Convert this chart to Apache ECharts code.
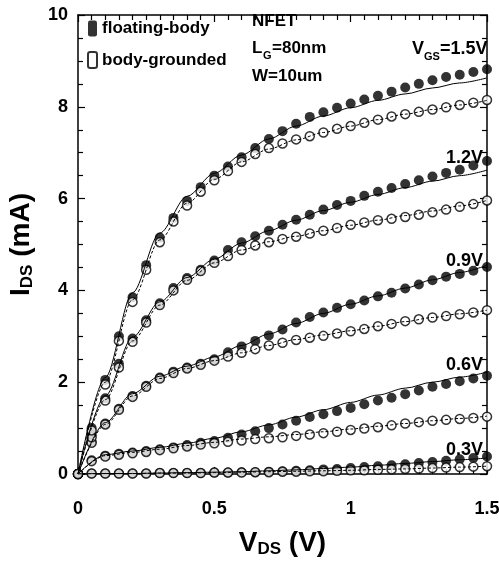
<!DOCTYPE html>
<html>
<head>
<meta charset="utf-8">
<script src="https://cdn.jsdelivr.net/npm/echarts@6/dist/echarts.min.js"></script>
<style>
    html, body {margin: 0; padding: 0; background: #fff;}
    .container {position: relative; width: 499px; height: 564px;}
    .layer {position: absolute; left: 0; top: 0; width: 499px; height: 564px;}
</style>
</head>
<body>
<div class="container">
    <div class="layer" id="axesLayer"></div>
    <div class="layer" id="demo01"></div>
</div>
<script>
// V_DS steps of the measured points and of the model curves
const vds = [0, 0.05, 0.1, 0.15, 0.2, 0.25, 0.3, 0.35, 0.4, 0.45, 0.5, 0.55, 0.6, 0.65, 0.7, 0.75, 0.8, 0.85, 0.9, 0.95,
    1, 1.05, 1.1, 1.15, 1.2, 1.25, 1.3, 1.35, 1.4, 1.45, 1.5];
const vdsModel = [0, 0.1, 0.2, 0.3, 0.4, 0.5, 0.6, 0.7, 0.8, 0.9, 1, 1.1, 1.2, 1.3, 1.4, 1.5];

// floating-body measured (filled)
const fb15 = [0, 1.0, 2.05, 3.0, 3.85, 4.55, 5.15, 5.58, 5.95, 6.25, 6.5, 6.7, 6.9, 7.1, 7.3, 7.47, 7.63, 7.78, 7.88, 7.98, 8.07, 8.16, 8.24, 8.33, 8.42, 8.5, 8.58, 8.65, 8.7, 8.76, 8.82];
const fb12 = [0, 0.85, 1.65, 2.4, 2.95, 3.35, 3.72, 4.05, 4.27, 4.45, 4.65, 4.88, 5.05, 5.18, 5.3, 5.43, 5.54, 5.65, 5.76, 5.86, 5.95, 6.06, 6.15, 6.23, 6.32, 6.4, 6.48, 6.56, 6.63, 6.72, 6.82];
const fb09 = [0, 0.7, 1.1, 1.42, 1.7, 1.92, 2.1, 2.23, 2.32, 2.4, 2.5, 2.65, 2.78, 2.9, 3.02, 3.15, 3.3, 3.42, 3.52, 3.62, 3.7, 3.78, 3.87, 3.95, 4.04, 4.13, 4.22, 4.3, 4.36, 4.43, 4.51];
const fb06 = [0, 0.3, 0.4, 0.44, 0.47, 0.5, 0.54, 0.58, 0.63, 0.68, 0.72, 0.79, 0.86, 0.93, 1.0, 1.08, 1.16, 1.24, 1.3, 1.37, 1.44, 1.52, 1.6, 1.66, 1.74, 1.82, 1.9, 1.96, 2.02, 2.08, 2.14];
const fb03 = [0, 0.01, 0.01, 0.01, 0.01, 0.01, 0.02, 0.02, 0.02, 0.02, 0.03, 0.03, 0.04, 0.04, 0.05, 0.06, 0.07, 0.08, 0.1, 0.11, 0.13, 0.15, 0.17, 0.19, 0.21, 0.24, 0.26, 0.29, 0.32, 0.35, 0.38];

// body-grounded measured (open)
const bg15 = [0, 0.95, 1.95, 2.9, 3.75, 4.45, 5.05, 5.5, 5.85, 6.15, 6.4, 6.6, 6.8, 6.97, 7.1, 7.2, 7.29, 7.36, 7.44, 7.52, 7.58, 7.65, 7.72, 7.79, 7.84, 7.89, 7.94, 7.99, 8.04, 8.09, 8.15];
const bg12 = [0, 0.8, 1.6, 2.32, 2.88, 3.3, 3.68, 4.0, 4.23, 4.42, 4.6, 4.75, 4.88, 4.98, 5.05, 5.12, 5.17, 5.24, 5.3, 5.36, 5.43, 5.48, 5.53, 5.56, 5.6, 5.65, 5.7, 5.76, 5.82, 5.88, 5.96];
const bg09 = [0, 0.68, 1.08, 1.4, 1.68, 1.9, 2.08, 2.2, 2.3, 2.38, 2.47, 2.56, 2.64, 2.72, 2.8, 2.86, 2.92, 2.97, 3.01, 3.06, 3.11, 3.16, 3.22, 3.27, 3.33, 3.37, 3.41, 3.44, 3.48, 3.52, 3.57];
const bg06 = [0, 0.28, 0.38, 0.42, 0.45, 0.48, 0.52, 0.56, 0.6, 0.64, 0.67, 0.7, 0.73, 0.76, 0.78, 0.8, 0.83, 0.86, 0.89, 0.92, 0.96, 0.99, 1.02, 1.06, 1.1, 1.13, 1.16, 1.18, 1.2, 1.22, 1.25];
const bg03 = [0, 0.01, 0.01, 0.01, 0.01, 0.01, 0.02, 0.02, 0.02, 0.02, 0.03, 0.03, 0.03, 0.04, 0.04, 0.05, 0.05, 0.06, 0.06, 0.07, 0.08, 0.08, 0.09, 0.1, 0.11, 0.12, 0.13, 0.14, 0.15, 0.16, 0.17];

// model curves (solid = floating-body, dashed = body-grounded)
const fbModel15 = [0, 2.1, 3.95, 5.25, 6.05, 6.55, 6.95, 7.3, 7.58, 7.8, 7.98, 8.14, 8.28, 8.41, 8.52, 8.63];
const fbModel12 = [0, 1.7, 2.98, 3.75, 4.28, 4.68, 5.03, 5.3, 5.53, 5.74, 5.92, 6.09, 6.24, 6.38, 6.5, 6.62];
const fbModel09 = [0, 1.12, 1.75, 2.13, 2.35, 2.55, 2.8, 3.05, 3.28, 3.5, 3.7, 3.88, 4.05, 4.23, 4.39, 4.55];
const fbModel06 = [0, 0.42, 0.5, 0.58, 0.67, 0.78, 0.92, 1.07, 1.24, 1.4, 1.56, 1.72, 1.87, 2.0, 2.11, 2.22];
const fbModel03 = [0, 0.01, 0.01, 0.02, 0.03, 0.04, 0.05, 0.07, 0.09, 0.12, 0.15, 0.19, 0.23, 0.27, 0.31, 0.35];
const bgModel15 = [0, 2.0, 3.8, 5.1, 5.9, 6.42, 6.8, 7.08, 7.28, 7.44, 7.58, 7.72, 7.84, 7.94, 8.04, 8.14];
const bgModel12 = [0, 1.62, 2.9, 3.68, 4.22, 4.6, 4.88, 5.06, 5.18, 5.3, 5.42, 5.53, 5.63, 5.73, 5.84, 5.96];
const bgModel09 = [0, 1.08, 1.7, 2.08, 2.3, 2.47, 2.64, 2.8, 2.93, 3.03, 3.12, 3.22, 3.32, 3.41, 3.49, 3.57];
const bgModel06 = [0, 0.4, 0.47, 0.54, 0.62, 0.69, 0.76, 0.81, 0.86, 0.92, 0.98, 1.04, 1.1, 1.16, 1.21, 1.26];
const bgModel03 = [0, 0.01, 0.01, 0.02, 0.02, 0.03, 0.04, 0.05, 0.06, 0.07, 0.08, 0.1, 0.11, 0.13, 0.15, 0.17];

const xTicks = [0, 0.5, 1, 1.5];
const yTicks = [0, 2, 4, 6, 8, 10];
const vgsLabels = ['1.2V', '0.9V', '0.6V', '0.3V'];

let curves = [
    {fb: fb03, bg: bg03, fbModel: fbModel03, bgModel: bgModel03},
    {fb: fb06, bg: bg06, fbModel: fbModel06, bgModel: bgModel06},
    {fb: fb09, bg: bg09, fbModel: fbModel09, bgModel: bgModel09},
    {fb: fb12, bg: bg12, fbModel: fbModel12, bgModel: bgModel12},
    {fb: fb15, bg: bg15, fbModel: fbModel15, bgModel: bgModel15},
];

const font = '"Liberation Sans", Arial, sans-serif';
const gridBox = {left: 78, right: 12, top: 15, bottom: 90, outerBoundsMode: 'none'};
let pair = (xs, ys) => xs.map((x, i) => [x, ys[i]]);

let richSub = (size, subSize, pad) => ({
    a: {fontSize: size, fontWeight: 'bold', fontFamily: font, color: '#000'},
    s: {fontSize: subSize, fontWeight: 'bold', fontFamily: font, color: '#000', padding: [pad, 0, 0, 0]}
});

// one axis config; side decides labels / name; show=false keeps only the scale
let makeAxis = (dim, side, show) => {
    let isX = dim === 'x';
    let axis = {
        type: 'value', position: side, show: show,
        min: 0, max: isX ? 1.5 : 10, interval: isX ? 0.5 : 2,
        axisLine: {show: true, onZero: false, lineStyle: {color: '#000', width: 1.5}},
        axisTick: {show: true, inside: true, length: 7, lineStyle: {color: '#000', width: 1.2}},
        minorTick: {show: true, splitNumber: isX ? 10 : 4, length: 5, lineStyle: {color: '#000', width: 1.2}},
        splitLine: {show: false}, minorSplitLine: {show: false},
        axisLabel: {show: false}
    };
    if (show && (side === 'bottom' || side === 'left')) {
        axis.axisLabel = {
            show: true, margin: isX ? 26 : 10, fontSize: 18, fontWeight: 'bold', fontFamily: font, color: '#000',
            formatter: v => (isX ? xTicks : yTicks).includes(v) ? String(v) : ''
        };
        axis.nameLocation = 'middle';
        axis.nameTextStyle = {rich: richSub(28, 17, 12)};
        axis.name = isX ? '{a|V}{s|DS}{a| (V)}' : '{a|I}{s|DS}{a| (mA)}';
        axis.nameGap = isX ? 55 : 42;
        if (!isX) axis.nameRotate = 90;
    }
    return axis;
};

let txt = (left, top, text, size) => ({
    type: 'text', left: left, top: top,
    style: {text: text, font: 'bold ' + size + 'px ' + font, fill: '#000'}
});

let buildSeries = () => {
    let series = [];
    curves.forEach(c => {
        series.push({
            name: 'fb-model', type: 'line', data: pair(vdsModel, c.fbModel),
            showSymbol: false, smooth: 0.3, smoothMonotone: 'x',
            lineStyle: {color: '#000', width: 1}
        });
        series.push({
            name: 'bg-model', type: 'line', data: pair(vdsModel, c.bgModel),
            showSymbol: false, smooth: 0.3, smoothMonotone: 'x',
            lineStyle: {color: '#000', width: 1, type: [3, 2]}
        });
        series.push({
            name: 'floating-body', type: 'scatter', data: pair(vds, c.fb),
            symbol: 'circle', symbolSize: 10,
            itemStyle: {color: '#000'}
        });
        series.push({
            name: 'body-grounded', type: 'scatter', data: pair(vds, c.bg),
            symbol: 'circle', symbolSize: 9,
            itemStyle: {color: '#fff', borderColor: '#000', borderWidth: 1.5}
        });
    });
    return series;
};

// bottom layer: frame, ticks, tick labels and axis titles
let getAxesOption = () => ({
    animation: false,
    backgroundColor: '#fff',
    grid: gridBox,
    xAxis: [makeAxis('x', 'bottom', true), makeAxis('x', 'top', true)],
    yAxis: [makeAxis('y', 'left', true), makeAxis('y', 'right', true)],
    series: [{type: 'scatter', data: []}]
});

// top layer: the data, legend and annotations on the same scales
let getOption = () => {
    let labels = [
        txt(252, 13, 'NFET', 17),
        txt(252, 40, 'L', 17), txt(263, 50, 'G', 11), txt(272, 40, '=80nm', 17),
        txt(252, 68, 'W=10um', 17),
        txt(412, 40, 'V', 18), txt(424, 51, 'GS', 11), txt(440, 40, '=1.5V', 18)
    ];
    vgsLabels.forEach((t, i) => labels.push(txt(446, [149, 252, 356, 441][i], t, 18)));

    return {
        animation: false,
        backgroundColor: 'rgba(0,0,0,0)',
        grid: gridBox,
        legend: {
            left: 82, top: 15, orient: 'vertical', itemGap: 14,
            itemWidth: 9, itemHeight: 16,
            textStyle: {fontSize: 17, fontWeight: 'bold', fontFamily: font, color: '#000'},
            data: [{name: 'floating-body', icon: 'roundRect'}, {name: 'body-grounded', icon: 'roundRect'}],
            selectedMode: false
        },
        xAxis: [makeAxis('x', 'bottom', false)],
        yAxis: [makeAxis('y', 'left', false)],
        graphic: labels,
        series: buildSeries()
    };
};

let axesChart = echarts.init(document.getElementById('axesLayer'), null, {width: 499, height: 564});
axesChart.setOption(getAxesOption());

let myChart = echarts.init(document.getElementById('demo01'), null, {width: 499, height: 564});
myChart.setOption(getOption());
</script>
</body>
</html>
